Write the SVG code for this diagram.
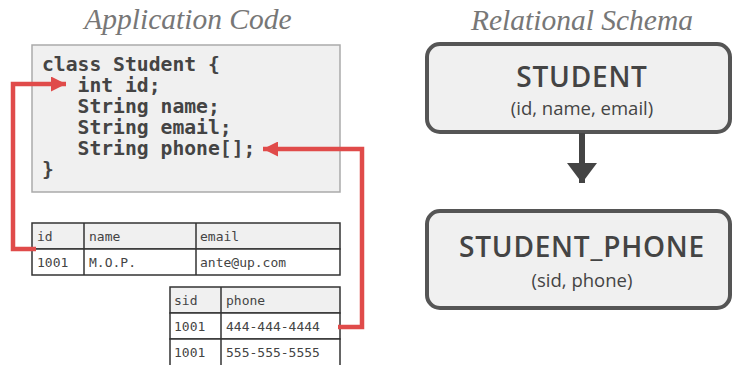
<svg xmlns="http://www.w3.org/2000/svg" width="733" height="365" viewBox="0 0 733 365">
<defs>
<style>
.title{font-family:"Liberation Serif",serif;font-style:italic;font-size:29.5px;fill:#777;text-anchor:middle}
.code{font-family:"DejaVu Sans Mono","Liberation Mono",monospace;font-weight:bold;font-size:19.7px;fill:#444;white-space:pre}
.cell{font-family:"DejaVu Sans Mono","Liberation Mono",monospace;font-size:13px;fill:#444}
.tbl{fill:#fff;stroke:#333;stroke-width:1.5}
.hdr{fill:#f0f0f0;stroke:#333;stroke-width:1.5}
.ent{fill:#f0f0f0;stroke:#555;stroke-width:4}
.ename{font-family:"Open Sans",sans-serif;font-weight:600;font-size:28px;fill:#444;text-anchor:middle;letter-spacing:0.8px}
.eattr{font-family:"Open Sans",sans-serif;font-size:18.5px;fill:#444;text-anchor:middle}
.red{fill:none;stroke:#e04b4a;stroke-width:4.5}
</style>
<marker id="redhead" markerWidth="15" markerHeight="15" refX="15" refY="7.5" orient="auto" markerUnits="userSpaceOnUse"><path d="M0,0 L15,7.5 L0,15 Z" fill="#e04b4a"/></marker>
<marker id="grayhead" markerWidth="30" markerHeight="20" refX="15" refY="20" orient="0" markerUnits="userSpaceOnUse"><path d="M0,0 L30,0 L15,20 Z" fill="#444"/></marker>
</defs>
<rect width="733" height="365" fill="#fff"/>
<text class="title" x="188" y="29">Application Code</text>
<text class="title" x="582" y="30">Relational Schema</text>

<g id="code">
<rect x="32" y="45" width="308" height="147" fill="#f0f0f0" stroke="#aaa" stroke-width="1.5"/>
<text class="code" x="42" y="71">class Student {</text>
<text class="code" x="42" y="92">   int id;</text>
<text class="code" x="42" y="113">   String name;</text>
<text class="code" x="42" y="134">   String email;</text>
<text class="code" x="42" y="155">   String phone[];</text>
<text class="code" x="42" y="176">}</text>
</g>

<g id="student-table">
<rect class="hdr" x="32" y="223" width="308" height="26"/>
<rect class="tbl" x="32" y="249" width="308" height="26"/>
<line x1="84" y1="223" x2="84" y2="275" stroke="#333" stroke-width="1.5"/>
<line x1="196" y1="223" x2="196" y2="275" stroke="#333" stroke-width="1.5"/>
<text class="cell" x="37" y="241">id</text>
<text class="cell" x="89" y="241">name</text>
<text class="cell" x="200" y="241">email</text>
<text class="cell" x="37" y="267">1001</text>
<text class="cell" x="89" y="267">M.O.P.</text>
<text class="cell" x="200" y="267">ante@up.com</text>
</g>

<g id="phone-table">
<rect class="hdr" x="170" y="287" width="170" height="26"/>
<rect class="tbl" x="170" y="313" width="170" height="26"/>
<rect class="tbl" x="170" y="339" width="170" height="30"/>
<line x1="221" y1="287" x2="221" y2="365" stroke="#333" stroke-width="1.5"/>
<text class="cell" x="174" y="305">sid</text>
<text class="cell" x="226" y="305">phone</text>
<text class="cell" x="174" y="331">1001</text>
<text class="cell" x="226" y="331">444-444-4444</text>
<text class="cell" x="174" y="357">1001</text>
<text class="cell" x="226" y="357">555-555-5555</text>
</g>

<g id="student">
<rect class="ent" x="427" y="44" width="303" height="88" rx="13"/>
<text class="ename" x="582" y="87">STUDENT</text>
<text class="eattr" x="582" y="115">(id, name, email)</text>
</g>

<g id="student_phone">
<rect class="ent" x="427" y="211" width="303" height="97" rx="13"/>
<text class="ename" x="582" y="257">STUDENT_PHONE</text>
<text class="eattr" x="582" y="287">(sid, phone)</text>
</g>

<g id="connectors">
<polyline class="red" points="36,249 13,249 13,84 66,84" marker-end="url(#redhead)"/>
<polyline class="red" points="338,327 362,327 362,149 263,149" marker-end="url(#redhead)"/>
<line x1="582" y1="133" x2="582" y2="183" stroke="#444" stroke-width="6" marker-end="url(#grayhead)"/>
</g>
</svg>
